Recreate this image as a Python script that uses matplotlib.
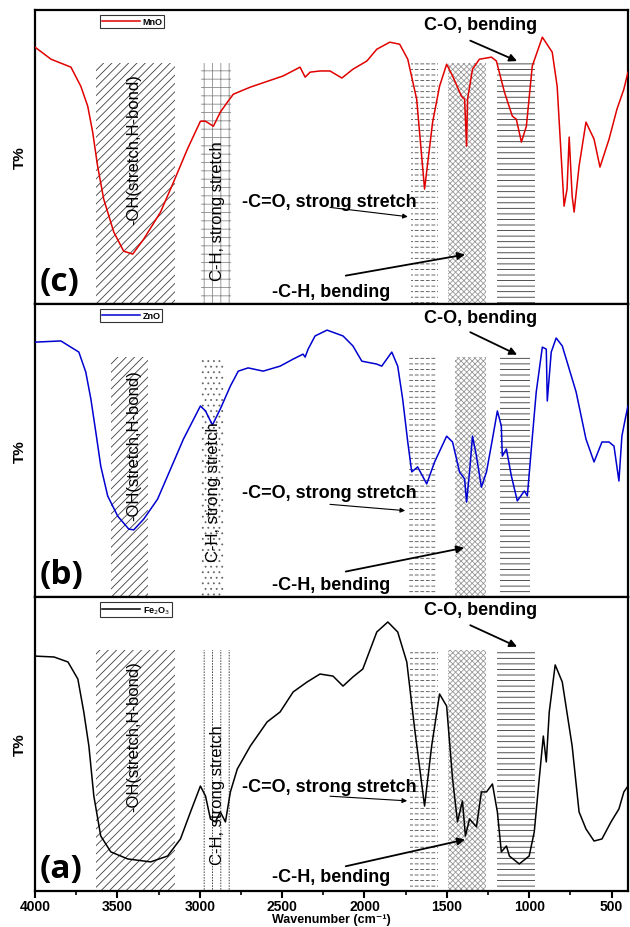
import matplotlib
matplotlib.use("Agg")
import matplotlib.pyplot as plt
import numpy as np

# ---------------- data ----------------
mno_wn = [4000, 3903, 3782, 3722, 3680, 3650, 3620, 3583, 3522, 3462, 3407, 3340, 3238, 3159, 3075,
          2996, 2965, 2917, 2875, 2832, 2796, 2693, 2494, 2391, 2360, 2330, 2270, 2209, 2137, 2070,
          1985, 1925, 1846, 1786, 1737, 1683, 1635, 1586, 1544, 1501, 1465, 1411, 1392, 1380, 1374,
          1344, 1302, 1229, 1199, 1150, 1102, 1078, 1047, 1017, 981, 920, 860, 830, 788, 770, 757,
          739, 727, 697, 655, 606, 570, 515, 467, 425, 400]
mno_t = [87.4, 83.3, 80.6, 74.1, 67.3, 58.5, 46.9, 35.7, 24.5, 18.0, 17.0, 22.1, 31.3, 41.5, 52.7,
         62.2, 62.2, 60.5, 65.3, 68.7, 71.4, 73.8, 77.6, 80.6, 77.2, 78.9, 79.3, 79.3, 76.9, 79.9,
         82.7, 86.7, 89.1, 88.4, 83.3, 69.7, 39.1, 61.9, 74.1, 81.6, 77.6, 70.7, 69.7, 53.7, 69.7,
         79.9, 83.3, 84.0, 82.7, 72.1, 63.9, 62.9, 55.1, 60.5, 81.0, 90.8, 85.7, 74.1, 33.3, 39.1, 56.8,
         36.7, 31.3, 46.9, 61.9, 56.1, 46.6, 56.1, 66.3, 73.1, 78.9]

zno_wn = [4000, 3843, 3734, 3692, 3661, 3631, 3601, 3559, 3498, 3431, 3401, 3340, 3256, 3177, 3099,
          2996, 2965, 2923, 2875, 2814, 2766, 2706, 2615, 2512, 2433, 2373, 2360, 2342, 2300, 2227,
          2130, 2070, 2016, 1925, 1895, 1834, 1798, 1768, 1737, 1713, 1677, 1622, 1574, 1501, 1465,
          1423, 1392, 1380, 1362, 1344, 1320, 1290, 1259, 1223, 1193, 1169, 1163, 1138, 1108, 1072,
          1029, 1011, 987, 957, 920, 896, 890, 866, 836, 799, 715, 655, 606, 558, 515, 485, 455,
          437, 413, 400]
zno_t = [87.0, 87.4, 83.6, 76.8, 67.6, 56.3, 44.7, 34.5, 27.6, 23.2, 22.9, 26.6, 33.4, 43.7, 53.9,
         65.2, 63.5, 58.7, 64.2, 72.0, 77.1, 78.2, 77.1, 78.8, 81.2, 82.9, 81.9, 84.6, 89.1, 91.1,
         89.1, 85.7, 80.5, 79.5, 78.8, 83.6, 78.8, 67.6, 52.9, 42.7, 44.4, 38.6, 46.1, 54.9, 52.9,
         42.7, 40.3, 32.4, 42.7, 54.9, 48.1, 37.5, 42.7, 53.9, 63.5, 58.4, 48.1, 50.5, 41.3, 32.8,
         36.2, 34.5, 50.5, 70.0, 85.3, 84.6, 66.9, 83.6, 88.4, 85.7, 70.0, 53.9, 46.1, 52.9, 52.9, 51.5, 39.6,
         54.9, 61.8, 65.2]

fe_wn = [4000, 3885, 3800, 3740, 3704, 3673, 3643, 3601, 3540, 3437, 3298, 3195, 3117, 3056, 2996,
         2965, 2935, 2905, 2875, 2844, 2814, 2772, 2693, 2591, 2512, 2433, 2348, 2270, 2191, 2130,
         2070, 2010, 1925, 1858, 1798, 1743, 1695, 1635, 1592, 1544, 1501, 1465, 1435, 1405, 1387,
         1362, 1320, 1290, 1259, 1223, 1193, 1169, 1138, 1120, 1060, 1000, 969, 939, 914, 896, 878,
         842, 799, 739, 697, 655, 606, 558, 503, 455, 425, 400]
fe_t = [79.9, 79.6, 77.9, 72.1, 60.9, 49.3, 32.3, 18.7, 13.3, 10.9, 9.9, 11.9, 17.7, 26.9, 35.7,
        32.3, 24.5, 23.5, 26.9, 23.5, 33.7, 41.5, 49.3, 57.5, 60.9, 67.7, 71.1, 73.8, 73.1, 69.7,
        72.8, 75.5, 88.1, 91.5, 88.1, 77.9, 55.1, 28.9, 49.3, 67.0, 62.9, 38.1, 23.5, 30.6, 18.7,
        24.5, 21.8, 33.7, 33.7, 36.4, 26.9, 13.3, 15.3, 11.9, 9.2, 11.9, 20.1, 38.1, 52.7, 43.9, 60.9,
        76.9, 71.1, 49.3, 26.9, 21.1, 17.0, 17.7, 23.5, 27.9, 33.7, 35.7]

panel_labels = ["(c)", "(b)", "(a)"]
legend_labels = ["MnO", "ZnO", "Fe$_2$O$_3$"]
colors = ["#e00000", "#0000d0", "black"]

# shaded bands (wavenumber ranges) per panel: OH, C-H stretch, C=O, C-H bend, C-O
bands = [
    [(3630, 3150), (2990, 2808), (1719, 1556), (1495, 1260), (1193, 963)],
    [(3540, 3315), (2990, 2850), (1737, 1568), (1453, 1260), (1175, 993)],
    [(3630, 3150), (2990, 2800), (1725, 1556), (1490, 1260), (1193, 963)],
]

xticks = [4000, 3500, 3000, 2500, 2000, 1500, 1000, 500]

# ---------------- figure ----------------
plt.rcParams['font.family'] = ['Liberation Sans', 'DejaVu Sans']
plt.rcParams['hatch.linewidth'] = 0.6

fig = plt.figure(figsize=(6.3, 9.28), dpi=100)
L, R = 0.0556, 0.9968
bottoms = [0.6713, 0.3556, 0.0388]
tops = [0.988, 0.6713, 0.3556]

series = [(mno_wn, mno_t), (zno_wn, zno_t), (fe_wn, fe_t)]

# annotation layout per panel (axes-fraction y values)
co_y = [(0.95, 0.90, 0.823), (0.955, 0.908, 0.823), (0.956, 0.908, 0.827)]
cdo_y = [(0.35, 0.33, 0.296), (0.358, 0.317, 0.294), (0.357, 0.323, 0.306)]
chb_y = [(0.044, 0.095, 0.17), (0.044, 0.085, 0.17), (0.05, 0.082, 0.177)]
cdo_end = [1720, 1736, 1724]
chb_end = [1373, 1379, 1373]
vt_y = [(0.53, 0.32), (0.52, 0.36), (0.53, 0.33)]
vt_x = [(3400, 2893), (3400, 2915), (3400, 2893)]


def band(ax, x0, x1, color, hatch, ymax=0.82, breaker=None, blw=1.2):
    p = ax.axvspan(x0, x1, ymin=0, ymax=ymax, facecolor='none', edgecolor=color, hatch=hatch, lw=0)
    if breaker is not None:
        q = ax.axvspan(x0, x1, ymin=0, ymax=ymax, facecolor='none', edgecolor='white', hatch=breaker, lw=0)
        if hasattr(q, 'set_hatch_linewidth'):
            q.set_hatch_linewidth(blw)
    return p


for i in range(3):
    ax = fig.add_axes([L, bottoms[i], R - L, tops[i] - bottoms[i]])
    wn, t = series[i]
    ax.plot(wn, t, color=colors[i], lw=1.1, label=legend_labels[i], zorder=5)
    ax.set_xlim(4000, 400)
    ax.set_ylim(0, 100)
    ax.set_yticks([])
    for s in ax.spines.values():
        s.set_linewidth(1.6)

    b = bands[i]
    band(ax, b[0][0], b[0][1], '0.25', '////')
    if i == 0:
        band(ax, b[1][0], b[1][1], '0.55', '++')
    elif i == 1:
        band(ax, b[1][0], b[1][1], '0.4', '...')
    else:
        band(ax, b[1][0], b[1][1], '0.15', '||', breaker='------', blw=0.9)
    band(ax, b[2][0], b[2][1], '0.3', '---', breaker='|||', blw=1.3)
    band(ax, b[3][0], b[3][1], '0.6', 'xxxxxx')
    band(ax, b[4][0], b[4][1], '0.2', '---')

    tr = ax.get_xaxis_transform()
    ax.text(vt_x[i][0], vt_y[i][0], "-OH(stretch,H-bond)", rotation=90, ha='center', va='center',
            fontsize=12, transform=tr, zorder=6)
    ax.text(vt_x[i][1], vt_y[i][1], "C-H, strong stretch", rotation=90, ha='center', va='center',
            fontsize=12, transform=tr, zorder=6)

    ax.text(1294, co_y[i][0], "C-O, bending", ha='center', va='center', fontsize=13,
            fontweight='bold', transform=tr)
    ax.annotate('', xy=(1058, co_y[i][2]), xytext=(1373, co_y[i][1]), xycoords=tr, textcoords=tr,
                arrowprops=dict(arrowstyle='-|>', color='k', lw=1.3, mutation_scale=11))

    ax.text(2741, cdo_y[i][0], "-C=O, strong stretch", ha='left', va='center', fontsize=13,
            fontweight='bold', transform=tr, zorder=6)
    ax.annotate('', xy=(cdo_end[i], cdo_y[i][2]), xytext=(2226, cdo_y[i][1]), xycoords=tr, textcoords=tr,
                arrowprops=dict(arrowstyle='-|>', color='k', lw=0.8, mutation_scale=7))

    ax.text(2202, chb_y[i][0], "-C-H, bending", ha='center', va='center', fontsize=13,
            fontweight='bold', transform=tr)
    ax.annotate('', xy=(chb_end[i], chb_y[i][2]), xytext=(2130, chb_y[i][1]), xycoords=tr, textcoords=tr,
                arrowprops=dict(arrowstyle='-|>', color='k', lw=1.3, mutation_scale=11))

    ax.text(0.007, 0.02, panel_labels[i], transform=ax.transAxes, fontsize=24, fontweight='bold',
            family=['Open Sans', 'DejaVu Sans'], ha='left', va='bottom')

    leg = ax.legend(loc='upper left', bbox_to_anchor=(0.110, 0.982), fontsize=6.5, frameon=True,
                    fancybox=False, handlelength=4.2, handletextpad=0.3, borderpad=0.2,
                    borderaxespad=0)
    leg.get_frame().set_edgecolor('black')
    leg.get_frame().set_linewidth(0.8)
    for txt in leg.get_texts():
        txt.set_fontweight('bold')

    ax.set_ylabel("T%", fontsize=11, fontweight='bold', labelpad=6)

    if i < 2:
        ax.set_xticks([])
    else:
        ax.set_xticks(xticks)
        ax.set_xticks(np.arange(3750, 400, -500), minor=True)
        ax.tick_params(axis='x', which='major', direction='out', length=5, width=1.5, labelsize=10, pad=1)
        ax.tick_params(axis='x', which='minor', direction='out', length=3, width=1.2)
        for lab in ax.get_xticklabels():
            lab.set_fontweight('bold')
        ax.set_xlabel("Wavenumber (cm\u207b\u00b9)", fontsize=9, fontweight='bold')
        ax.xaxis.set_label_coords(0.5, -0.096)
        ax.xaxis.label.set_verticalalignment('center')

fig.savefig("out.png", dpi=100)
